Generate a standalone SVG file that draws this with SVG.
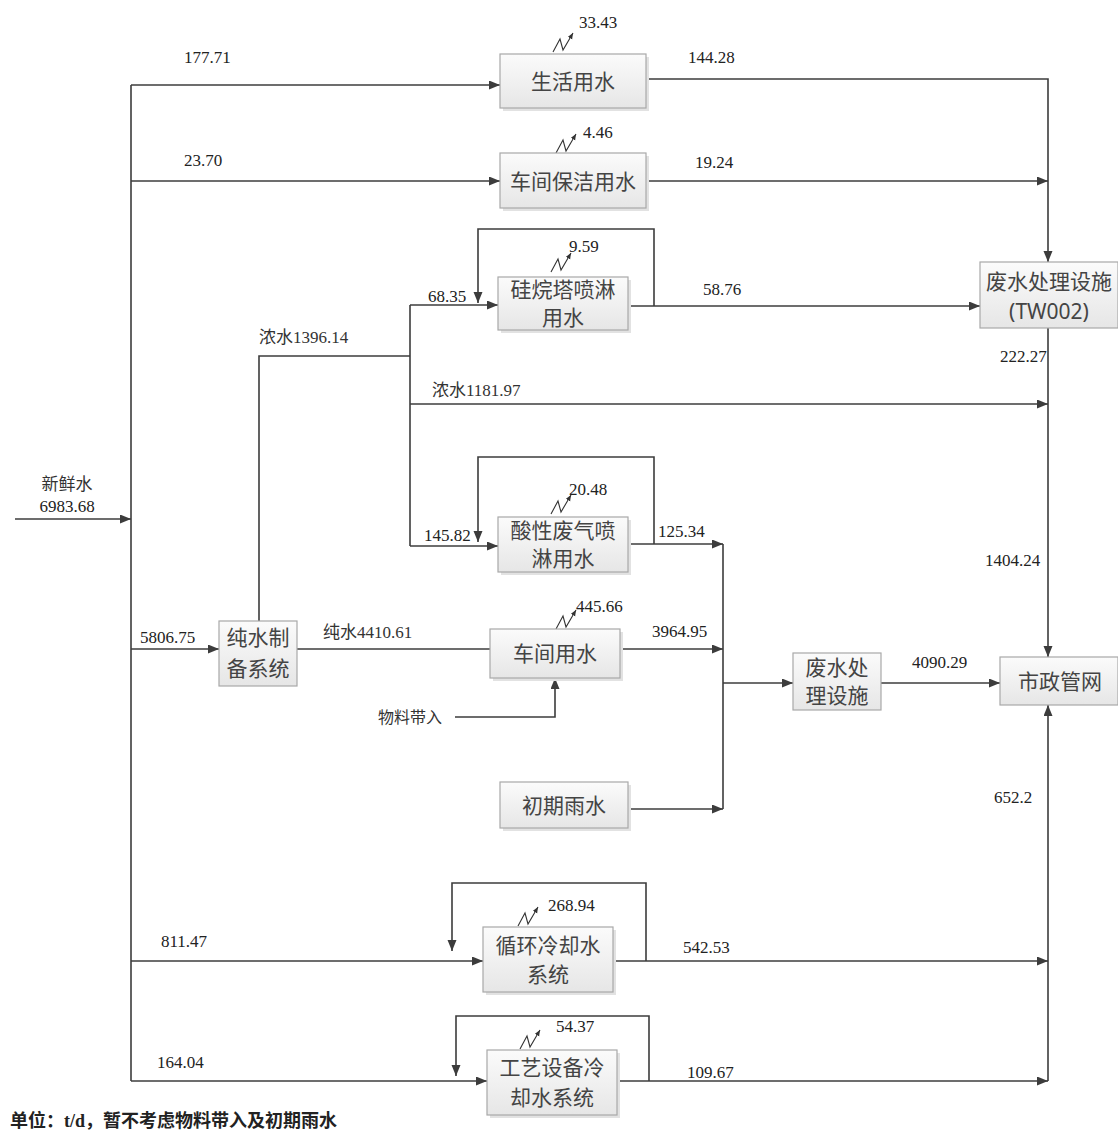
<svg xmlns="http://www.w3.org/2000/svg" width="1118" height="1135" viewBox="0 0 1118 1135">
<style>
.box{fill:url(#g);stroke:#a8a8a8;stroke-width:1.2}
.sh{fill:#e2e2e2;stroke:none}
.bt{font-family:"Noto Sans CJK SC",sans-serif;font-size:21px;fill:#444;text-anchor:middle}
.num{font-family:"Liberation Serif","Noto Sans CJK SC",serif;font-size:17px;fill:#222}
.cn{font-family:"Liberation Serif","Noto Sans CJK SC",serif;font-size:17px;fill:#333}
.ln{fill:none;stroke:#3c3c3c;stroke-width:1.6}
.ar{fill:none;stroke:#3c3c3c;stroke-width:1.6;marker-end:url(#a)}
.ev{fill:none;stroke:#333;stroke-width:1.1;marker-end:url(#s)}
</style>
<defs>
<linearGradient id="g" x1="0" y1="0" x2="0" y2="1">
<stop offset="0" stop-color="#fbfbfb"/>
<stop offset="1" stop-color="#e6e6e6"/>
</linearGradient>
<marker id="a" markerUnits="userSpaceOnUse" markerWidth="12" markerHeight="10" refX="11" refY="4.5" orient="auto">
<path d="M0,0 L11,4.5 L0,9 z" fill="#3c3c3c"/>
</marker>
<marker id="s" markerUnits="userSpaceOnUse" markerWidth="7" markerHeight="6" refX="6" refY="2.5" orient="auto">
<path d="M0,0 L6,2.5 L0,5 z" fill="#333"/>
</marker>
<path id="evap" d="M0,0 L7,-13 L10,-2 L20,-19"/>
</defs>
<rect width="1118" height="1135" fill="#fff"/>

<g id="connectors">
<path class="ar" d="M15,519 H131"/>
<path class="ln" d="M131,85 V1081"/>
<path class="ar" d="M131,85 H500"/>
<path class="ar" d="M131,181 H500"/>
<path class="ar" d="M131,649 H219"/>
<path class="ar" d="M131,961 H483"/>
<path class="ar" d="M131,1081 H487"/>
<path class="ar" d="M646,79 H1048 V262"/>
<path class="ar" d="M646,181 H1048"/>
<path class="ar" d="M628,306 H980"/>
<path class="ar" d="M654,306 V229 H478 V303"/>
<path class="ar" d="M410,305 H498"/>
<path class="ln" d="M259,621 V356 H410"/>
<path class="ln" d="M410,305 V546"/>
<path class="ar" d="M410,404 H1048"/>
<path class="ar" d="M410,546 H498"/>
<path class="ar" d="M654,544 V457 H478 V542"/>
<path class="ar" d="M628,544 H723"/>
<path class="ln" d="M723,544 V809"/>
<path class="ln" d="M297,649 H490"/>
<path class="ar" d="M620,649 H723"/>
<path class="ar" d="M455,717 H555 V678"/>
<path class="ar" d="M628,809 H723"/>
<path class="ar" d="M723,683 H793"/>
<path class="ar" d="M881,683 H1000"/>
<path class="ar" d="M1048,328 V657"/>
<path class="ar" d="M1048,1081 V705"/>
<path class="ar" d="M613,961 H1048"/>
<path class="ar" d="M646,961 V883 H452 V951"/>
<path class="ar" d="M617,1081 H1048"/>
<path class="ar" d="M649,1081 V1016 H456 V1076"/>
<use href="#evap" class="ev" x="553" y="52"/>
<use href="#evap" class="ev" x="556" y="153"/>
<use href="#evap" class="ev" x="551" y="272"/>
<use href="#evap" class="ev" x="551" y="514"/>
<use href="#evap" class="ev" x="556" y="629"/>
<use href="#evap" class="ev" x="518" y="926"/>
<use href="#evap" class="ev" x="520" y="1049"/>
</g>

<g id="n1"><rect class="sh" x="503" y="57" width="146" height="54"/><rect class="box" x="500" y="54" width="146" height="54"/><text class="bt" x="573" y="89">生活用水</text></g>
<g id="n2"><rect class="sh" x="503" y="156" width="146" height="55"/><rect class="box" x="500" y="153" width="146" height="55"/><text class="bt" x="573" y="189">车间保洁用水</text></g>
<g id="n3"><rect class="sh" x="501" y="280" width="130" height="53"/><rect class="box" x="498" y="277" width="130" height="53"/><text class="bt" x="563" y="297">硅烷塔喷淋</text><text class="bt" x="563" y="325">用水</text></g>
<g id="n4"><rect class="box" x="980" y="262" width="138" height="66"/><text class="bt" x="1049" y="289">废水处理设施</text><text class="bt" x="1049" y="319" style="font-family:'Noto Sans','Liberation Sans',sans-serif">(TW002)</text></g>
<g id="n5"><rect class="sh" x="501" y="520" width="130" height="55"/><rect class="box" x="498" y="517" width="130" height="55"/><text class="bt" x="563" y="538">酸性废气喷</text><text class="bt" x="563" y="566">淋用水</text></g>
<g id="n6"><rect class="box" x="219" y="621" width="78" height="65"/><text class="bt" x="258" y="645">纯水制</text><text class="bt" x="258" y="676">备系统</text></g>
<g id="n7"><rect class="sh" x="493" y="632" width="130" height="49"/><rect class="box" x="490" y="629" width="130" height="49"/><text class="bt" x="555" y="661">车间用水</text></g>
<g id="n8"><rect class="sh" x="503" y="785" width="128" height="46"/><rect class="box" x="500" y="782" width="128" height="46"/><text class="bt" x="564" y="813">初期雨水</text></g>
<g id="n9"><rect class="box" x="793" y="653" width="88" height="57"/><text class="bt" x="837" y="675">废水处</text><text class="bt" x="837" y="703">理设施</text></g>
<g id="n10"><rect class="box" x="1000" y="657" width="118" height="48"/><text class="bt" x="1060" y="689">市政管网</text></g>
<g id="n11"><rect class="sh" x="486" y="930" width="130" height="65"/><rect class="box" x="483" y="927" width="130" height="65"/><text class="bt" x="548" y="953">循环冷却水</text><text class="bt" x="548" y="982">系统</text></g>
<g id="n12"><rect class="sh" x="490" y="1053" width="130" height="65"/><rect class="box" x="487" y="1050" width="130" height="65"/><text class="bt" x="552" y="1075">工艺设备冷</text><text class="bt" x="552" y="1105">却水系统</text></g>

<g id="labels">
<text class="cn" x="67" y="490" text-anchor="middle">新鲜水</text>
<text class="num" x="67" y="512" text-anchor="middle">6983.68</text>
<text class="num" x="184" y="63">177.71</text>
<text class="num" x="184" y="166">23.70</text>
<text class="num" x="688" y="63">144.28</text>
<text class="num" x="695" y="168">19.24</text>
<text class="num" x="579" y="28">33.43</text>
<text class="num" x="583" y="138">4.46</text>
<text class="num" x="428" y="302">68.35</text>
<text class="num" x="569" y="252">9.59</text>
<text class="num" x="703" y="295">58.76</text>
<text class="cn" x="259" y="343">浓水1396.14</text>
<text class="cn" x="432" y="396">浓水1181.97</text>
<text class="num" x="1000" y="362">222.27</text>
<text class="num" x="569" y="495">20.48</text>
<text class="num" x="424" y="541">145.82</text>
<text class="num" x="658" y="537">125.34</text>
<text class="num" x="985" y="566">1404.24</text>
<text class="num" x="140" y="643">5806.75</text>
<text class="cn" x="323" y="638">纯水4410.61</text>
<text class="num" x="576" y="612">445.66</text>
<text class="num" x="652" y="637">3964.95</text>
<text class="num" x="912" y="668">4090.29</text>
<text class="cn" x="378" y="723" style="font-size:16px">物料带入</text>
<text class="num" x="994" y="803">652.2</text>
<text class="num" x="161" y="947">811.47</text>
<text class="num" x="548" y="911">268.94</text>
<text class="num" x="683" y="953">542.53</text>
<text class="num" x="157" y="1068">164.04</text>
<text class="num" x="556" y="1032">54.37</text>
<text class="num" x="687" y="1078">109.67</text>
<text class="cn" x="10" y="1127" style="font-size:18px;font-weight:bold;fill:#222">单位：t/d，暂不考虑物料带入及初期雨水</text>
</g>
</svg>
